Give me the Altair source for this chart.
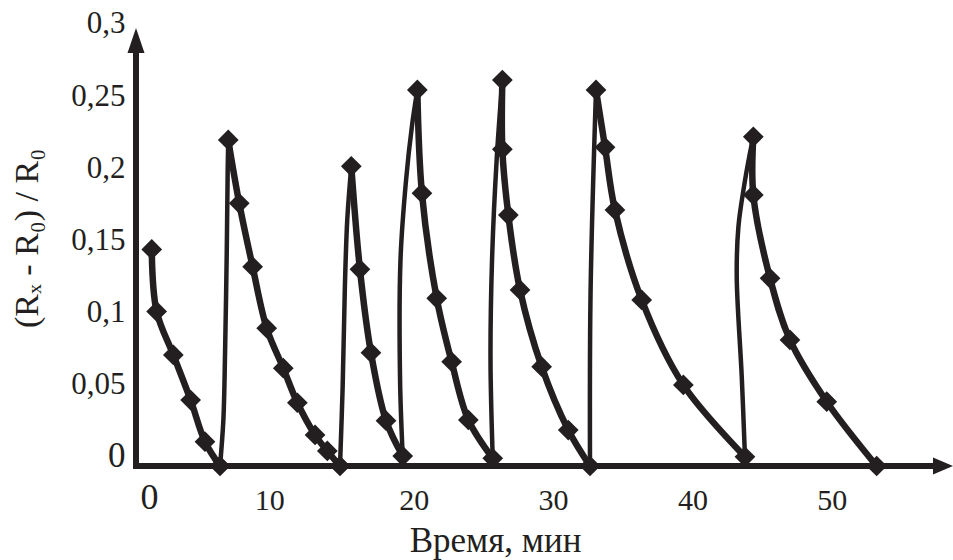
import altair as alt
import pandas as pd

INK = "#231F20"
FONT = "Liberation Serif"

# Decay branches (drawn with diamond markers): time in minutes
decay_time = [
    [1.13, 1.48, 2.68, 3.92, 4.95, 6.03],
    [6.62, 7.41, 8.37, 9.38, 10.57, 11.58, 12.85, 13.73, 14.64],
    [15.45, 16.07, 16.86, 17.94, 19.14],
    [20.19, 20.52, 21.58, 22.65, 23.85, 25.60],
    [26.29, 26.29, 26.72, 27.56, 29.11, 31.02, 32.58],
    [33.01, 33.66, 34.37, 36.29, 39.28, 43.70],
    [44.30, 44.30, 45.50, 46.93, 49.57, 53.15],
]
# (Rx - R0) / R0 for the decay branches
decay_value = [
    [0.150, 0.107, 0.0769, 0.0457, 0.0168, 0.0],
    [0.2258, 0.1819, 0.138, 0.0954, 0.0677, 0.0438, 0.0215, 0.0104, 0.0],
    [0.2075, 0.1362, 0.0785, 0.0314, 0.0069],
    [0.2604, 0.1889, 0.1161, 0.0722, 0.0319, 0.0053],
    [0.2673, 0.2193, 0.1738, 0.1219, 0.0688, 0.0249, 0.0],
    [0.2604, 0.2207, 0.1773, 0.115, 0.0561, 0.0064],
    [0.2280, 0.1877, 0.13, 0.0873, 0.0445, 0.0],
]
# Rise branches (no markers)
rise_time = [
    [6.03, 6.27, 6.39, 6.51, 6.58, 6.62],
    [14.64, 14.83, 14.99, 15.16, 15.45],
    [19.14, 18.95, 18.98, 19.38, 19.81, 20.19],
    [25.60, 25.44, 25.55, 25.88, 26.29],
    [32.58, 32.62, 33.01],
    [43.70, 43.47, 43.11, 43.23, 43.63, 44.01, 44.30],
]
rise_value = [
    [0.0, 0.0319, 0.078, 0.147, 0.205, 0.2258],
    [0.0, 0.0549, 0.1242, 0.1704, 0.2075],
    [0.0069, 0.0596, 0.1427, 0.198, 0.236, 0.2604],
    [0.0053, 0.0734, 0.1427, 0.2119, 0.2673],
    [0.0, 0.1198, 0.2604],
    [0.0064, 0.0618, 0.1311, 0.1657, 0.1934, 0.2142, 0.2280],
]

x_ticks = [0, 10, 20, 30, 40, 50]
y_ticks = [0, 0.05, 0.1, 0.15, 0.2, 0.25, 0.3]

rows = []
for k, (ts, vs) in enumerate(zip(decay_time, decay_value)):
    for i, (t, v) in enumerate(zip(ts, vs)):
        rows.append({"t": t, "v": v, "seg": f"d{k}", "kind": "decay", "i": i})
for k, (ts, vs) in enumerate(zip(rise_time, rise_value)):
    for i, (t, v) in enumerate(zip(ts, vs)):
        rows.append({"t": t, "v": v, "seg": f"r{k}", "kind": "rise", "i": i})
df = pd.DataFrame(rows)

W, H = 817, 438
PX_PER_MIN = 13.935
PX_PER_UNIT = 1444.0

x_axis = alt.Axis(
    values=x_ticks, domain=False, ticks=False, tickSize=0, grid=False,
    labelFont=FONT, labelColor=INK,
    labelFontSize={"condition": {"test": "datum.value == 0", "value": 36}, "value": 30},
    labelOffset={"condition": [
        {"test": "datum.value == 0", "value": 13},
        {"test": "datum.value == 10", "value": -6},
    ], "value": -1},
    labelPadding={"condition": {"test": "datum.value == 0", "value": 14}, "value": 19},
    labelBaseline="top", labelFlush=False, labelOverlap=False,
    title="Время, мин", titleFont=FONT, titleFontSize=35, titleFontWeight="normal",
    titleColor=INK, titleX=359, titleY=85, titleAlign="center", titleBaseline="alphabetic",
)
y_axis = alt.Axis(
    values=y_ticks, domain=False, ticks=False, tickSize=0, grid=False,
    labelExpr="replace(format(datum.value, '~g'), '.', ',')",
    labelFont=FONT, labelColor=INK,
    labelFontSize={"condition": {"test": "datum.value == 0", "value": 35}, "value": 31},
    labelAlign="right", labelBaseline="alphabetic", labelPadding=11, labelOverlap=False,
    labelFlush=False,
    title="(Rₓ - R₀) / R₀", titleFont=FONT, titleFontSize=34, titleFontWeight="normal",
    titleColor=INK, titleAngle=270, titleX=-99, titleY=210, titleAlign="center",
    titleBaseline="alphabetic",
)

X = alt.X("t:Q", scale=alt.Scale(domain=[0, W / PX_PER_MIN], nice=False, zero=False), axis=x_axis)
Y = alt.Y("v:Q", scale=alt.Scale(domain=[0, H / PX_PER_UNIT], nice=False, zero=False), axis=y_axis)

base = alt.Chart(df)

decay_lines = base.transform_filter(alt.datum.kind == "decay").mark_line(
    color=INK, strokeWidth=6.5, interpolate="catmull-rom", strokeJoin="round", strokeCap="round"
).encode(x=X, y=Y, detail="seg:N", order="i:Q")

rise_lines = base.transform_filter(alt.datum.kind == "rise").mark_line(
    color=INK, strokeWidth=4.5, interpolate="catmull-rom", strokeJoin="round", strokeCap="round"
).encode(x=X, y=Y, detail="seg:N", order="i:Q")

markers = base.transform_filter(alt.datum.kind == "decay").mark_point(
    shape="diamond", filled=True, size=430, color=INK, opacity=1, strokeWidth=0
).encode(x=X, y=Y)

deco = alt.Chart(pd.DataFrame({"k": [0]}))
y_line = deco.mark_rule(color=INK, strokeWidth=6).encode(
    x=alt.value(0), y=alt.value(10), y2=alt.value(H + 3))
x_line = deco.mark_rule(color=INK, strokeWidth=6).encode(
    x=alt.value(-3), x2=alt.value(W - 10), y=alt.value(H))
y_arrow = deco.mark_point(
    shape="M0,0L-0.34,1L0.34,1Z", size=2500, filled=True, color=INK, opacity=1, strokeWidth=0
).encode(x=alt.value(0), y=alt.value(0))
x_arrow = deco.mark_point(
    shape="M0,0L-1,-0.425L-1,0.425Z", size=1600, filled=True, color=INK, opacity=1, strokeWidth=0
).encode(x=alt.value(W), y=alt.value(H))

chart = alt.layer(
    rise_lines, decay_lines, markers, y_line, x_line, y_arrow, x_arrow
).properties(
    width=W, height=H,
    padding={"left": 136, "top": 28, "right": 953 - 136 - W, "bottom": 560 - 28 - H},
    autosize=alt.AutoSizeParams(type="none"),
    background="white",
).configure_view(stroke=None)

chart.save("out.html", embed_options={"renderer": "svg", "actions": False})
